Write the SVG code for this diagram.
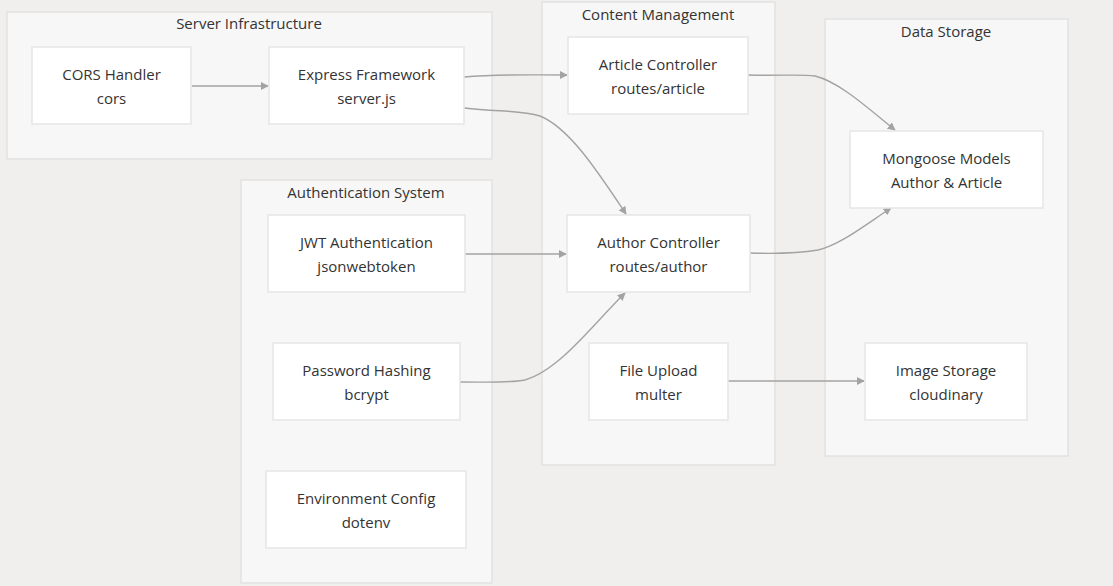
<svg xmlns="http://www.w3.org/2000/svg" width="1113" height="586" viewBox="0 0 1113 586">
<defs>
<marker id="arr" viewBox="0 0 10 10" refX="9" refY="5" markerWidth="8" markerHeight="8" markerUnits="userSpaceOnUse" orient="auto"><path d="M0,0 L10,5 L0,10 z" fill="#a3a3a3"/></marker>
<style>
.cl{fill:#f7f7f7;stroke:#e2e2e2;stroke-width:1.5}
.nd{fill:#ffffff;stroke:#e6e6e6;stroke-width:1.5}
text{font-family:"Open Sans","Noto Sans","Liberation Sans",sans-serif;font-size:15px;fill:#333;text-anchor:middle}
.e{fill:none;stroke:#a3a3a3;stroke-width:1.4;marker-end:url(#arr)}
</style>
</defs>
<rect width="1113" height="586" fill="#f0efee"/>
<g id="clusters">
<g id="c-server"><rect class="cl" x="7" y="12" width="485" height="147"/><text x="249" y="29">Server Infrastructure</text></g>
<g id="c-content"><rect class="cl" x="542" y="2" width="233" height="463"/><text x="658" y="20">Content Management</text></g>
<g id="c-auth"><rect class="cl" x="241" y="180" width="251" height="403"/><text x="366" y="198">Authentication System</text></g>
<g id="c-data"><rect class="cl" x="825" y="19" width="243" height="437"/><text x="946" y="37">Data Storage</text></g>
</g>
<g id="connectors">
<path class="e" d="M192,86 L268,86"/>
<path class="e" d="M464,77 C500,74 520,75 567,75"/>
<path class="e" d="M464,108 C500,112 520,110 540,116 C570,128 600,175 626,214"/>
<path class="e" d="M748,75 C780,76 800,74 815,76 C840,82 870,110 895,130"/>
<path class="e" d="M750,253 C780,254 800,253 818,250 C840,245 865,225 891,208"/>
<path class="e" d="M465,254 L566,254"/>
<path class="e" d="M460,382 C490,382 510,383 525,380 C560,370 595,322 625,293"/>
<path class="e" d="M728,381 L864,381"/>
</g>
<g id="n-cors"><rect class="nd" x="32" y="47" width="159" height="77"/><text x="111.5" y="80">CORS Handler</text><text x="111.5" y="104">cors</text></g>
<g id="n-express"><rect class="nd" x="269" y="47" width="195" height="77"/><text x="366.5" y="80">Express Framework</text><text x="366.5" y="104">server.js</text></g>
<g id="n-article"><rect class="nd" x="568" y="37" width="180" height="77"/><text x="658" y="70">Article Controller</text><text x="658" y="94">routes/article</text></g>
<g id="n-author"><rect class="nd" x="567" y="215" width="183" height="77"/><text x="658.5" y="248">Author Controller</text><text x="658.5" y="272">routes/author</text></g>
<g id="n-upload"><rect class="nd" x="589" y="343" width="139" height="77"/><text x="658.5" y="376">File Upload</text><text x="658.5" y="400">multer</text></g>
<g id="n-jwt"><rect class="nd" x="268" y="215" width="197" height="77"/><text x="366.5" y="248">JWT Authentication</text><text x="366.5" y="272">jsonwebtoken</text></g>
<g id="n-bcrypt"><rect class="nd" x="273" y="343" width="187" height="77"/><text x="366.5" y="376">Password Hashing</text><text x="366.5" y="400">bcrypt</text></g>
<g id="n-env"><rect class="nd" x="266" y="471" width="200" height="77"/><text x="366" y="504">Environment Config</text><text x="366" y="528">dotenv</text></g>
<g id="n-mongoose"><rect class="nd" x="850" y="131" width="193" height="77"/><text x="946.5" y="164">Mongoose Models</text><text x="946.5" y="188">Author &amp; Article</text></g>
<g id="n-image"><rect class="nd" x="865" y="343" width="162" height="77"/><text x="946" y="376">Image Storage</text><text x="946" y="400">cloudinary</text></g>
</svg>
